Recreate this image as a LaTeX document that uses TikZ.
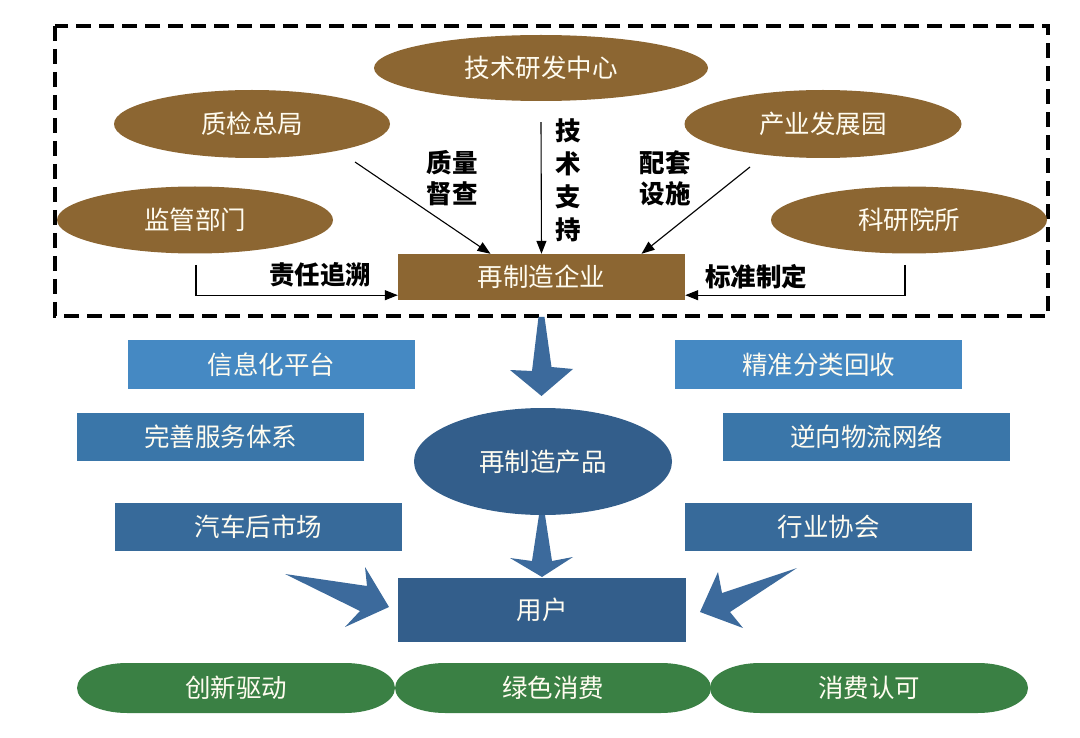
\documentclass[tikz,border=0pt]{standalone}
\usepackage{fontspec}
\setmainfont{Noto Sans CJK SC}
\usetikzlibrary{shapes.geometric,arrows.meta,calc}
\definecolor{brownc}{HTML}{8C6632}
\definecolor{blueA}{HTML}{4589C3}
\definecolor{blueB}{HTML}{3A76A9}
\definecolor{blueC}{HTML}{376A9A}
\definecolor{blueD}{HTML}{335E8B}
\definecolor{blueArr}{HTML}{3C6A9C}
\definecolor{greenc}{HTML}{3A8044}
\definecolor{txt}{HTML}{FFFCF0}
\tikzset{
  brownell/.style={ellipse, fill=brownc, text=txt, inner sep=0pt, font=\fontsize{25.5}{28}\selectfont},
  bluebox/.style={rectangle, text=txt, inner sep=0pt, minimum width=287, minimum height=48, font=\fontsize{25.5}{28}\selectfont},
  lab/.style={text=black, font=\fontsize{25.5}{31}\selectfont\bfseries, align=center, inner sep=0pt},
  arr/.style={draw=black, line width=1.1pt, -{Triangle[length=13pt,width=10pt]}},
  blockarr/.style={fill=blueArr},
  pilltext/.style={text=txt, inner sep=0pt, font=\fontsize{25.5}{28}\selectfont}
}
\begin{document}
\begin{tikzpicture}[x=1pt,y=-1pt]
\useasboundingbox (0,0) rectangle (1080,738);
% dashed frame
\draw[line width=3.2pt, dash pattern=on 15pt off 8pt] (55,26) rectangle (1048,316);
% brown nodes
\node[brownell, minimum width=334, minimum height=66] (tech) at (541,68) {技术研发中心};
\node[brownell, minimum width=276, minimum height=68] (zhijian) at (252,124) {质检总局};
\node[brownell, minimum width=277, minimum height=68] (chanye) at (823,124) {产业发展园};
\node[brownell, minimum width=276, minimum height=67] (jianguan) at (195,220) {监管部门};
\node[brownell, minimum width=276, minimum height=67] (keyan) at (909,220) {科研院所};
\node[rectangle, fill=brownc, text=txt, inner sep=0pt, minimum width=287, minimum height=46, font=\fontsize{25.5}{28}\selectfont] (qiye) at (541.5,277) {再制造企业};
% connectors
\coordinate (zs) at (355,162);
\draw[arr] (zs) -- ($(qiye.north)+(-51,0)$);
\draw[arr] ($(tech.south)+(0,21)$) -- (qiye.north);
\coordinate (cs) at (750,167);
\draw[arr] (cs) -- ($(qiye.north)+(100,0)$);
\coordinate (js) at (196,265);
\draw[arr] (js) |- ($(qiye.south west)+(0,-5)$);
\coordinate (ks) at (905,265);
\draw[arr] (ks) |- ($(qiye.south east)+(0,-5)$);
% labels
\node[lab] (l1) at (452,178) {质量\\督查};
\node[lab, font=\fontsize{25.5}{33}\selectfont\bfseries] (l2) at (568,180) {技\\术\\支\\持};
\node[lab] (l3) at (665,178) {配套\\设施};
\node[lab] (l4) at (320,275) {责任追溯};
\node[lab] (l5) at (756,277) {标准制定};
% block arrow 1
\fill[blockarr] (538.5,317) -- (544.5,317) -- (551.5,367) -- (573,369) -- (541.5,396) -- (510,370) -- (532,371) -- cycle;
% blue boxes
\node[bluebox, fill=blueA] (xinxi) at (271.5,364.5) {信息化平台};
\node[bluebox, fill=blueA] (jingzhun) at (818.5,364.5) {精准分类回收};
\node[bluebox, fill=blueB] (wanshan) at (220.5,437) {完善服务体系};
\node[bluebox, fill=blueB] (nixiang) at (866.5,437) {逆向物流网络};
\node[bluebox, fill=blueC] (qiche) at (258.5,527) {汽车后市场};
\node[bluebox, fill=blueC] (hangye) at (828.5,527) {行业协会};
\node[ellipse, fill=blueD, text=txt, inner sep=0pt, minimum width=258, minimum height=107, font=\fontsize{25.5}{28}\selectfont] (chanpin) at (543,461.5) {再制造产品};
% block arrow 2
\fill[blockarr] (539,515) -- (545,515) -- (552,561) -- (573,557) -- (542,577) -- (510,558) -- (532,561) -- cycle;
\node[rectangle, fill=blueD, text=txt, inner sep=0pt, minimum width=288, minimum height=64, font=\fontsize{25.5}{28}\selectfont] (yonghu) at (542,610) {用户};
% side block arrows
\fill[blockarr] (285,574) -- (367,586) -- (365,567) -- (389,607) -- (345,627) -- (360,611) -- cycle;
\fill[blockarr] (797,568) -- (722,593) -- (718,572) -- (700,612) -- (743,628) -- (730,612) -- cycle;
% green pills
\fill[greenc] (127,663) -- (345,663) arc[start angle=-90,end angle=90,x radius=50,y radius=25] -- (127,713) arc[start angle=90,end angle=270,x radius=50,y radius=25] -- cycle;
\fill[greenc] (445,663) -- (661,663) arc[start angle=-90,end angle=90,x radius=50,y radius=25] -- (445,713) arc[start angle=90,end angle=270,x radius=50,y radius=25] -- cycle;
\fill[greenc] (760,663) -- (978,663) arc[start angle=-90,end angle=90,x radius=50,y radius=25] -- (760,713) arc[start angle=90,end angle=270,x radius=50,y radius=25] -- cycle;
\node[pilltext] (chuangxin) at (236,688) {创新驱动};
\node[pilltext] (lvse) at (553,688) {绿色消费};
\node[pilltext] (renke) at (869,688) {消费认可};
\end{tikzpicture}
\end{document}
